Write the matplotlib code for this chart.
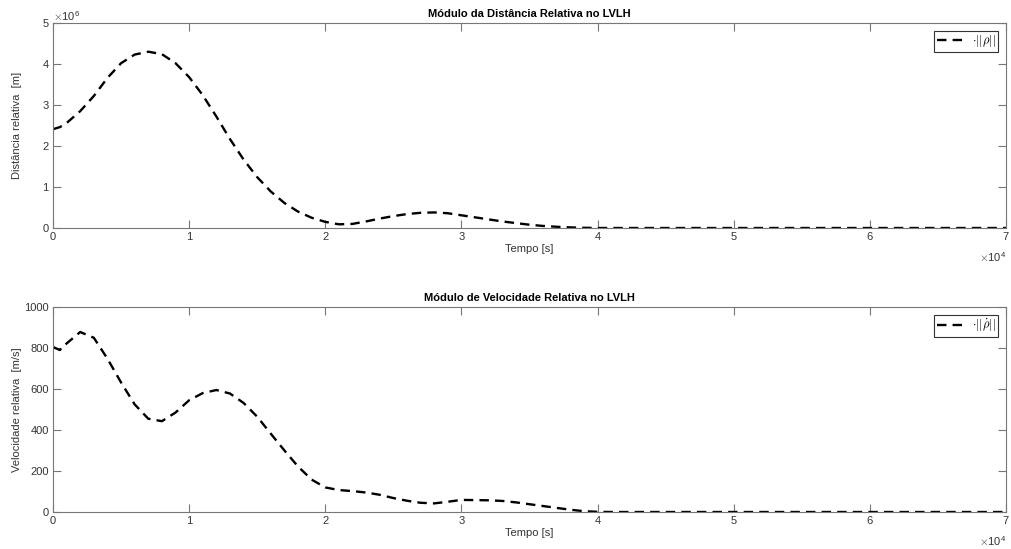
import matplotlib.pyplot as plt
from matplotlib.ticker import FuncFormatter, MultipleLocator

plt.rcParams['font.family'] = ['Liberation Sans', 'DejaVu Sans']
plt.rcParams['mathtext.fontset'] = 'cm'

# tempo [s]
t = [0, 500, 1000, 2000, 3000, 4000, 5000, 6000, 7000, 8000, 9000,
     10000, 11000, 12000, 13000, 14000, 15000, 16000, 17000, 18000, 19000,
     20000, 21000, 22000, 23000, 24000, 25000, 26000, 27000, 28000, 29000,
     30000, 31000, 32000, 33000, 34000, 35000, 36000, 37000, 38000, 39000,
     40000, 41000, 45000, 50000, 55000, 60000, 65000, 70000]

# modulo da distancia relativa [m]
dist = [2.41e6, 2.46e6, 2.56e6, 2.85e6, 3.22e6, 3.66e6, 4.02e6, 4.23e6, 4.30e6, 4.24e6, 4.02e6,
        3.68e6, 3.24e6, 2.72e6, 2.17e6, 1.67e6, 1.24e6, 0.89e6, 0.61e6, 0.40e6, 0.25e6,
        0.15e6, 0.09e6, 0.10e6, 0.16e6, 0.23e6, 0.29e6, 0.34e6, 0.37e6, 0.38e6, 0.36e6,
        0.31e6, 0.26e6, 0.21e6, 0.16e6, 0.12e6, 0.08e6, 0.05e6, 0.03e6, 0.015e6, 0.005e6,
        0.0, 0.0, 0.0, 0.0, 0.0, 0.0, 0.0, 0.0]

# modulo da velocidade relativa [m/s]
vel = [805, 790, 822, 878, 850, 748, 632, 525, 455, 443, 485,
       545, 580, 595, 578, 532, 465, 382, 300, 222, 158,
       120, 107, 102, 95, 84, 68, 55, 45, 42, 50,
       59, 58, 57, 54, 47, 38, 29, 20, 11, 4,
       1, 0, 0, 0, 0, 0, 0, 0]

spine_c = '#777777'
text_c = '#333333'

fig = plt.figure(figsize=(10.11, 5.49), dpi=100)
ax1 = fig.add_axes([0.0524, 0.5847, 0.9426, 0.3734])
ax2 = fig.add_axes([0.0524, 0.0674, 0.9426, 0.3734])


def style(ax):
    for s in ax.spines.values():
        s.set_color(spine_c)
        s.set_linewidth(0.8)
    ax.tick_params(direction='in', length=6, width=0.8, color=spine_c,
                   labelcolor=text_c, labelsize=8, top=True, right=True, pad=3)
    ax.set_xlim(0, 70000)
    ax.xaxis.set_major_locator(MultipleLocator(10000))
    ax.xaxis.set_major_formatter(FuncFormatter(lambda v, p: '%d' % round(v / 1e4)))
    ax.set_xlabel('Tempo [s]', fontsize=8, color=text_c, labelpad=1)
    ax.yaxis.set_label_coords(-0.033, 0.5)
    ax.text(1.0, -0.14, r'$\times\mathregular{10^{4}}$', transform=ax.transAxes,
            ha='right', va='center', fontsize=8, color=text_c)


# distancia
ax1.plot(t, dist, color='black', lw=1.7, ls=(0, (4, 2.6)), label=r'$\cdot||\rho||$')
style(ax1)
ax1.set_ylim(0, 5e6)
ax1.yaxis.set_major_locator(MultipleLocator(1e6))
ax1.yaxis.set_major_formatter(FuncFormatter(lambda v, p: '%d' % round(v / 1e6)))
ax1.text(0.0, 1.035, r'$\times\mathregular{10^{6}}$', transform=ax1.transAxes,
         ha='left', va='center', fontsize=8, color=text_c)
ax1.set_title('Módulo da Distância Relativa no LVLH', fontsize=8, fontweight='bold', pad=4)
ax1.set_ylabel('Distância relativa  [m]', fontsize=8, color=text_c)

# velocidade
ax2.plot(t, vel, color='black', lw=1.7, ls=(0, (4, 2.6)), label=r'$\cdot||\dot{\rho}||$')
style(ax2)
ax2.set_ylim(0, 1000)
ax2.yaxis.set_major_locator(MultipleLocator(200))
ax2.set_title('Módulo de Velocidade Relativa no LVLH', fontsize=8, fontweight='bold', pad=4)
ax2.set_ylabel('Velocidade relativa  [m/s]', fontsize=8, color=text_c)

for ax in (ax1, ax2):
    leg = ax.legend(loc='upper right', fontsize=9, fancybox=False, framealpha=1,
                    handlelength=2.4, handletextpad=0.4, borderpad=0.2,
                    borderaxespad=0.6)
    leg.get_frame().set_edgecolor('#333333')
    leg.get_frame().set_linewidth(0.8)

fig.savefig('out.png', dpi=100)
